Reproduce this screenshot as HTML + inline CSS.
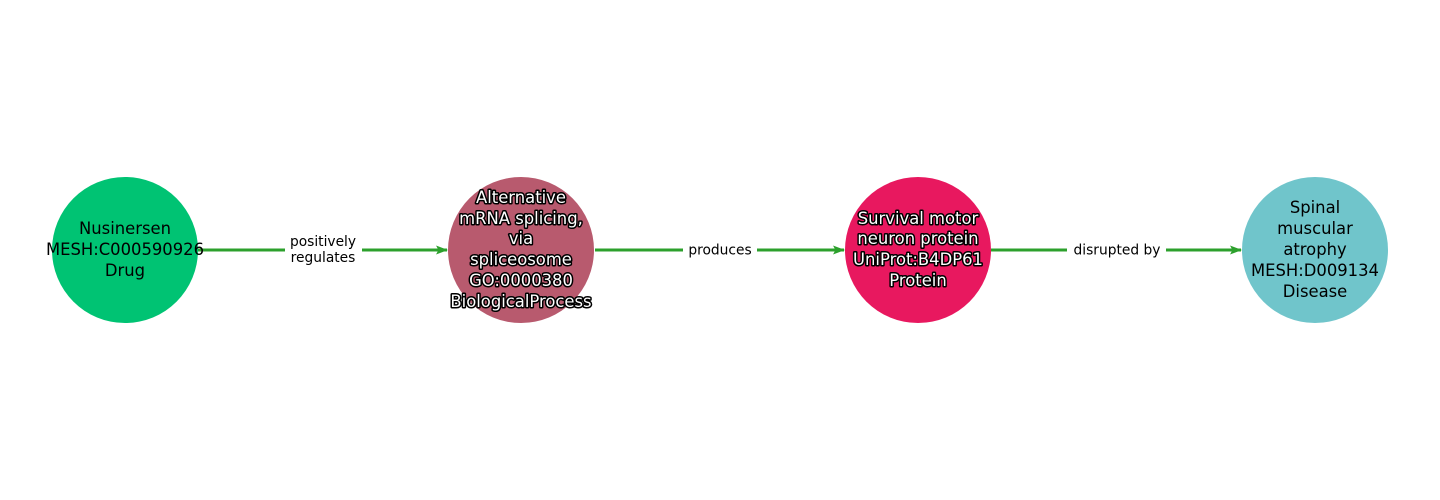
<!DOCTYPE html>
<html><head><meta charset="utf-8"><style>
html,body{margin:0;padding:0;background:#fff;}
svg{display:block;}
text{font-family:"DejaVu Sans","Liberation Sans",sans-serif;}
.n{font-size:16.4px;text-anchor:middle;fill:#000;}
.o{font-size:16.4px;text-anchor:middle;fill:#fff;stroke:#000;stroke-width:3px;paint-order:stroke;stroke-linejoin:round;}
.e{font-size:13.8px;text-anchor:middle;fill:#000;}
</style></head><body>
<svg width="1440" height="500" viewBox="0 0 1440 500">
<defs><marker id="a" markerWidth="12" markerHeight="12" refX="11" refY="6" orient="auto" markerUnits="userSpaceOnUse"><path d="M0,1.5 L12,6 L0,10.5 L2.5,6 Z" fill="#2ca02c"/></marker></defs>
<g stroke="#2ca02c" stroke-width="3" fill="none">
<line x1="198" y1="250" x2="447" y2="250" marker-end="url(#a)"/>
<line x1="595" y1="250" x2="844" y2="250" marker-end="url(#a)"/>
<line x1="991" y1="250" x2="1241" y2="250" marker-end="url(#a)"/>
</g>
<rect x="285" y="232" width="77" height="36" fill="#fff"/>
<rect x="683" y="241" width="74" height="18" fill="#fff"/>
<rect x="1067" y="241" width="99" height="18" fill="#fff"/>
<text class="e" x="323" y="246">positively</text>
<text class="e" x="323" y="262">regulates</text>
<text class="e" x="720" y="254.5">produces</text>
<text class="e" x="1117" y="254.5">disrupted by</text>
<circle cx="125" cy="250" r="73" fill="#00c373"/>
<circle cx="521" cy="250" r="73" fill="#b85a6e"/>
<circle cx="918" cy="250" r="73" fill="#e8185f"/>
<circle cx="1315" cy="250" r="73" fill="#70c5cb"/>
<text class="n" x="125" y="234">Nusinersen</text>
<text class="n" x="125" y="255">MESH:C000590926</text>
<text class="n" x="125" y="276">Drug</text>
<text class="o" x="521" y="203">Alternative</text>
<text class="o" x="521" y="224">mRNA splicing,</text>
<text class="o" x="521" y="244">via</text>
<text class="o" x="521" y="265">spliceosome</text>
<text class="o" x="521" y="286">GO:0000380</text>
<text class="o" x="521" y="307">BiologicalProcess</text>
<text class="o" x="918" y="224">Survival motor</text>
<text class="o" x="918" y="244">neuron protein</text>
<text class="o" x="918" y="265">UniProt:B4DP61</text>
<text class="o" x="918" y="286">Protein</text>
<text class="n" x="1315" y="213">Spinal</text>
<text class="n" x="1315" y="234">muscular</text>
<text class="n" x="1315" y="255">atrophy</text>
<text class="n" x="1315" y="276">MESH:D009134</text>
<text class="n" x="1315" y="297">Disease</text>
</svg>
</body></html>
